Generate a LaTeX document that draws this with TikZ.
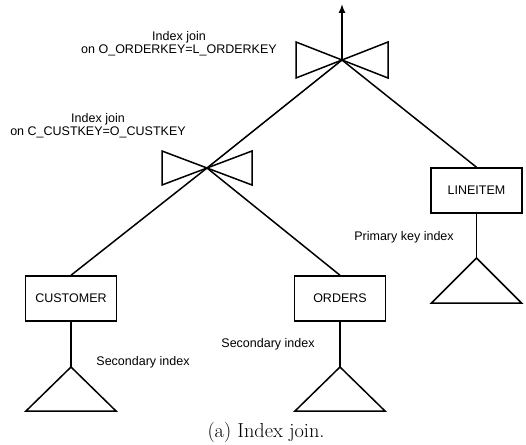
\documentclass[tikz,border=0pt]{standalone}
\usepackage{fontspec}
\setsansfont{Liberation Sans}
\usetikzlibrary{arrows.meta}
\begin{document}
\begin{tikzpicture}[x=1pt,y=-1pt,
  every path/.style={line width=1.5pt},
  tbl/.style={draw,line width=1.5pt,minimum width=91pt,minimum height=45pt,inner sep=0pt,font=\sffamily\fontsize{12.5}{14}\selectfont},
  lbl/.style={font=\sffamily\fontsize{12.5}{13}\selectfont,align=center,inner sep=0pt},
  idx/.style={line width=1.5pt,line join=miter},
]
\useasboundingbox (0,0) rectangle (526,444);
% joins
\coordinate (j1) at (342,60);
\coordinate (j2) at (207,168);
\coordinate (top) at (342,4);
% tables
\node[tbl] (cust) at (71,298.5) {CUSTOMER};
\node[tbl] (ord) at (340,298.5) {ORDERS};
\node[tbl] (line) at (476.5,190.5) {LINEITEM};
% index apexes
\coordinate (ca) at (71,367);
\coordinate (oa) at (340,367);
\coordinate (la) at (476.5,258);
% bowties
\draw[line join=miter] (j1) -- ++(-46,-18) -- ++(0,36) -- cycle;
\draw[line join=miter] (j1) -- ++(46,-18) -- ++(0,36) -- cycle;
\draw[line join=miter] (j2) -- ++(-45,-17) -- ++(0,34) -- cycle;
\draw[line join=miter] (j2) -- ++(45,-17) -- ++(0,34) -- cycle;
% edges
\draw[-{Latex[length=9pt,width=7pt]}] (j1) -- (top);
\draw (j1) -- (j2);
\draw (j1) -- (line.north);
\draw (j2) -- (cust.north);
\draw (j2) -- (ord.north);
\draw (cust.south) -- (ca);
\draw (ord.south) -- (oa);
\draw (line.south) -- (la);
% index triangles
\draw[idx] (ca) -- ++(-45,44) -- ++(90,0) -- cycle;
\draw[idx] (oa) -- ++(-45,44) -- ++(90,0) -- cycle;
\draw[idx] (la) -- ++(-45,45) -- ++(90,0) -- cycle;
% labels
\node[lbl] (l1) at (179,44) {Index join\\on O\_ORDERKEY=L\_ORDERKEY};
\node[lbl] (l2) at (98,126) {Index join\\on C\_CUSTKEY=O\_CUSTKEY};
\node[lbl] (s1) at (143,362) {Secondary index};
\node[lbl] (s2) at (268,344) {Secondary index};
\node[lbl] (p1) at (404,237) {Primary key index};
\node[inner sep=0pt,font=\rmfamily\fontsize{20.3}{24}\selectfont] (cap) at (266,432) {(a) Index join.};
\end{tikzpicture}
\end{document}
